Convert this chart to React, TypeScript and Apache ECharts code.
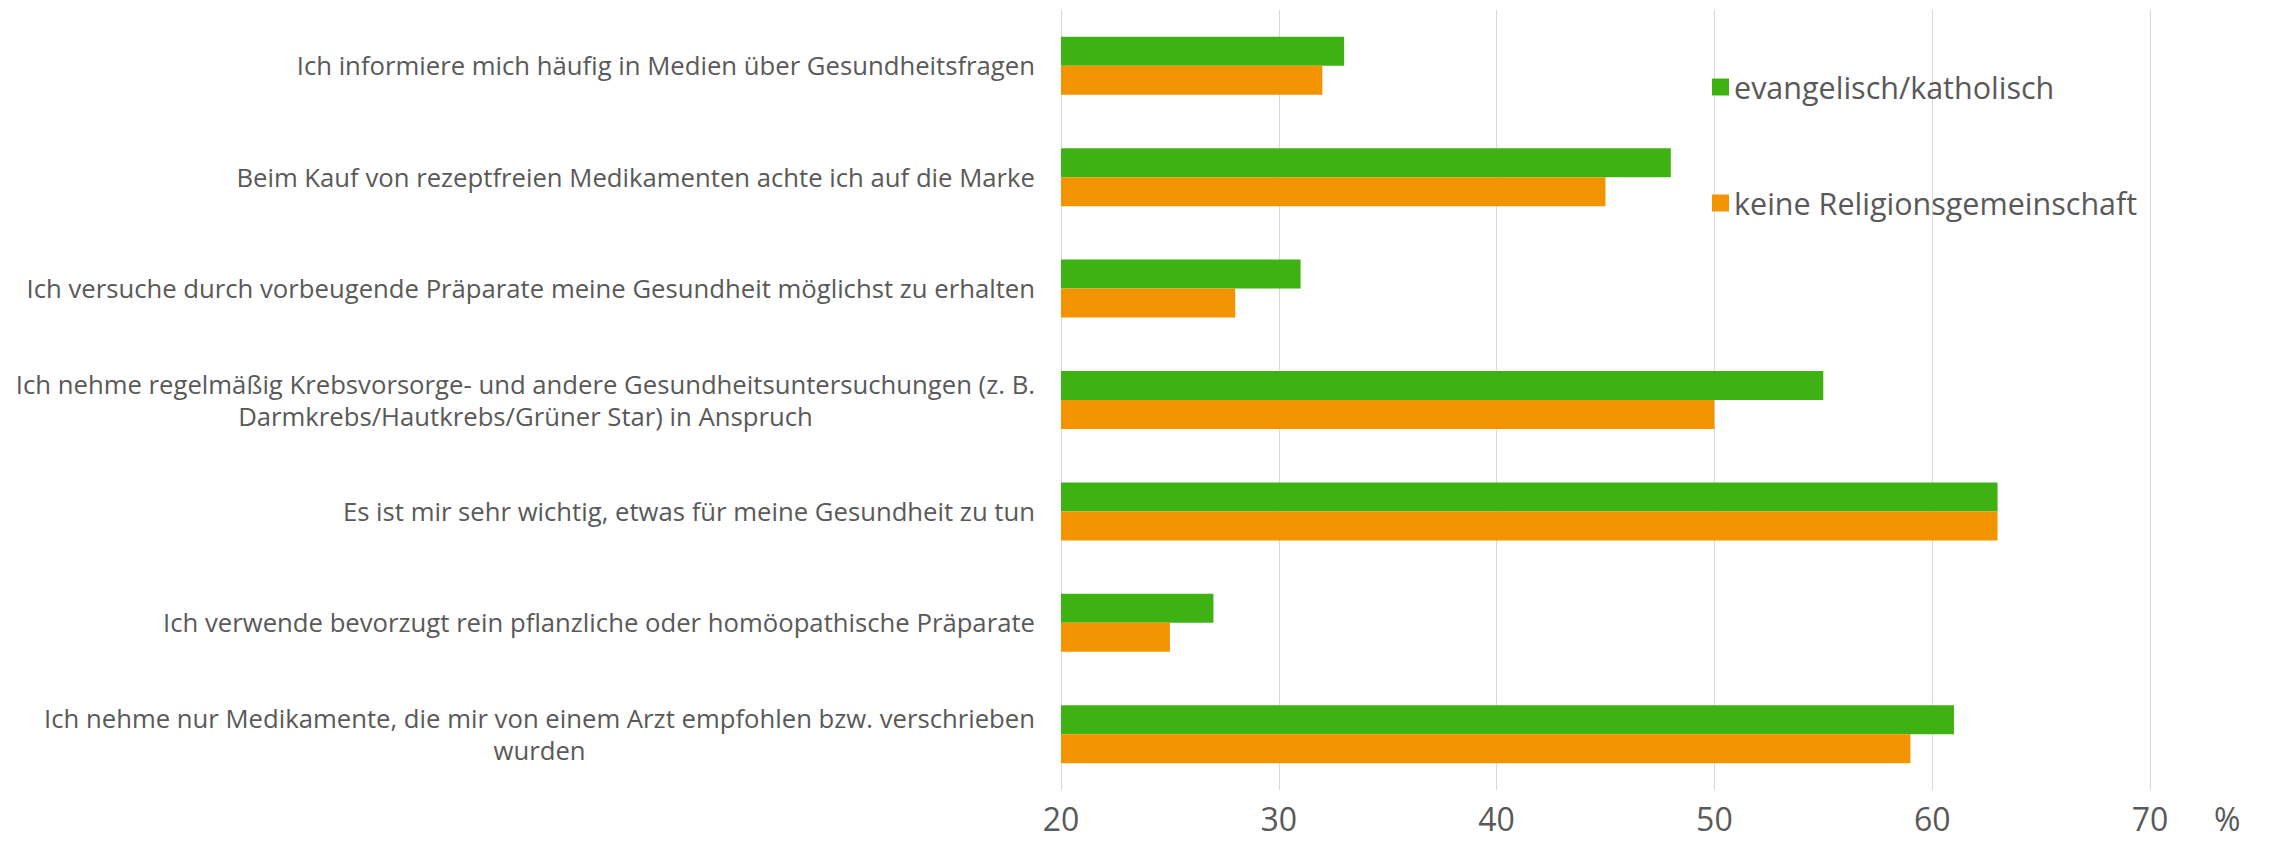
import React, { useEffect, useRef } from "react";
import * as echarts from "echarts";

const categories: string[] = [
  "Ich informiere mich häufig in Medien über Gesundheitsfragen",
  "Beim Kauf von rezeptfreien Medikamenten achte ich auf die Marke",
  "Ich versuche durch vorbeugende Präparate meine Gesundheit möglichst zu erhalten",
  "Ich nehme regelmäßig Krebsvorsorge- und andere Gesundheitsuntersuchungen (z. B.\nDarmkrebs/Hautkrebs/Grüner Star) in Anspruch",
  "Es ist mir sehr wichtig, etwas für meine Gesundheit zu tun",
  "Ich verwende bevorzugt rein pflanzliche oder homöopathische Präparate",
  "Ich nehme nur Medikamente, die mir von einem Arzt empfohlen bzw. verschrieben\nwurden",
];

const seriesNames: string[] = ["evangelisch/katholisch", "keine Religionsgemeinschaft"];
const evangelischKatholisch: number[] = [33, 48, 31, 55, 63, 27, 61];
const keineReligion: number[] = [32, 45, 28, 50, 63, 25, 59];

const TEXT = "#595959";
const FONT = "Open Sans";
const CAT_FS = 25.7;

export default function App() {
  const ref = useRef<HTMLDivElement>(null);
  useEffect(() => {
    if (!ref.current) return;
    const chart = echarts.init(ref.current, null, { renderer: "svg" });
    chart.setOption({
      animation: false,
      backgroundColor: "#ffffff",
      grid: { left: 1061, right: 122, top: 10, bottom: 53, containLabel: false },
      legend: {
        orient: "vertical",
        left: 1707,
        top: 65,
        itemWidth: 17,
        itemHeight: 17,
        itemGap: 82,
        icon: "rect",
        textStyle: { color: TEXT, fontFamily: FONT, fontSize: 30.5, lineHeight: 34, padding: [0, 0, 0, 0] },
        data: seriesNames,
      },
      xAxis: {
        type: "value",
        min: 20,
        max: 70,
        interval: 10,
        name: "%",
        nameLocation: "end",
        nameGap: 64,
        nameTextStyle: {
          color: TEXT,
          fontFamily: FONT,
          fontSize: 32,
          lineHeight: 24,
          align: "left",
          verticalAlign: "top",
          padding: [16, 0, 0, 0],
        },
        axisLine: { show: false },
        axisTick: { show: false },
        axisLabel: { color: TEXT, fontFamily: FONT, fontSize: 32, lineHeight: 24, margin: 16 },
        splitLine: { show: true, lineStyle: { color: "#d9d9d9", width: 1 } },
      },
      yAxis: {
        type: "category",
        inverse: true,
        data: categories,
        axisLine: { show: false },
        axisTick: { show: false },
        axisLabel: {
          color: TEXT,
          fontFamily: FONT,
          fontSize: CAT_FS,
          lineHeight: 32,
          margin: 26,
          formatter: (v: string) => {
            const parts = v.split("\n");
            if (parts.length === 1) return `{a|${parts[0]}}`;
            return `{a|${parts[0]}}\n{c|${parts[1]}}`;
          },
          rich: {
            a: { color: TEXT, fontFamily: FONT, fontSize: CAT_FS, lineHeight: 32, align: "right" },
            c: { color: TEXT, fontFamily: FONT, fontSize: CAT_FS, lineHeight: 32, align: "center" },
          },
        },
      },
      series: [
        {
          name: seriesNames[0],
          type: "bar",
          data: evangelischKatholisch,
          barWidth: 29,
          barGap: "0%",
          itemStyle: { color: "#3fb213" },
        },
        {
          name: seriesNames[1],
          type: "bar",
          data: keineReligion,
          barWidth: 29,
          barGap: "0%",
          itemStyle: { color: "#f29300" },
        },
      ],
    });
    return () => chart.dispose();
  }, []);
  return (
    <div
      ref={ref}
      style={{ position: "fixed", left: 0, top: 0, width: 2272, height: 843 }}
    />
  );
}
